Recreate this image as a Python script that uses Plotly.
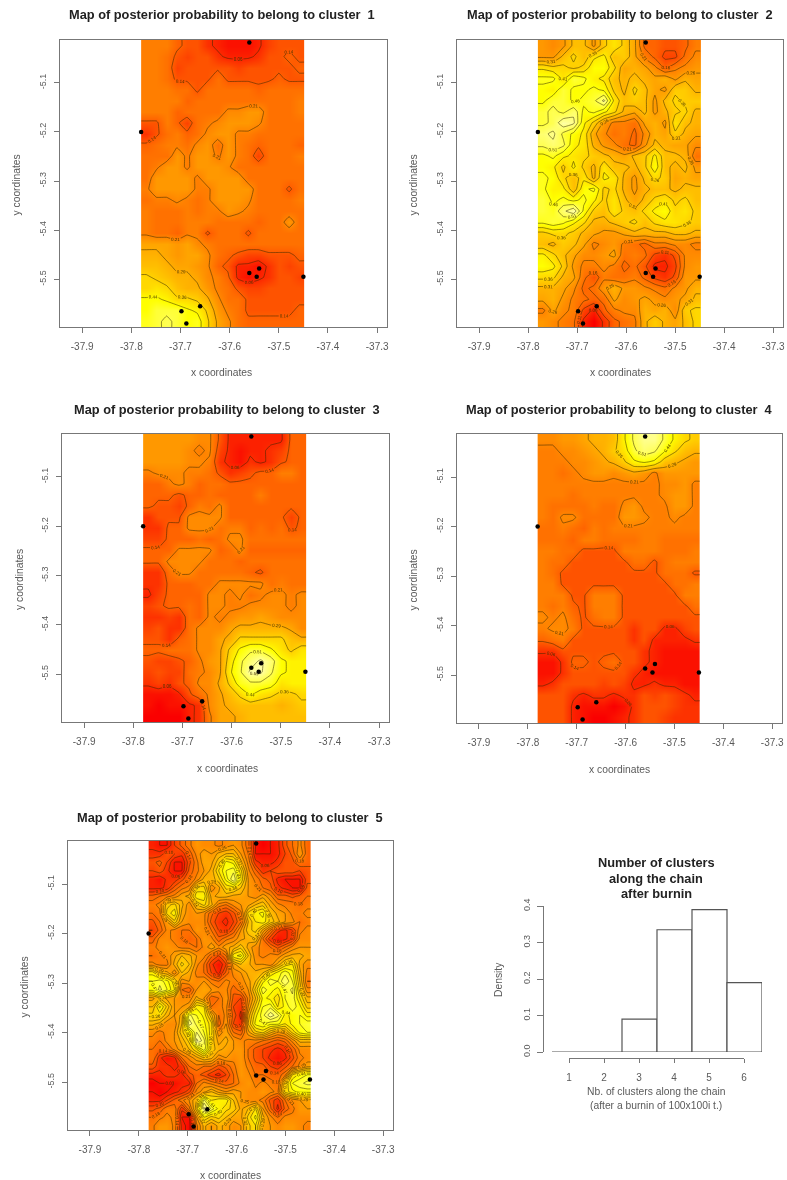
import numpy as np
import plotly.graph_objects as go

# --- data (shade index, 0 = red ... 18 = yellow ... 24 = pale) ---
cluster1 = [
 [8,8,8,6,5,5,3,2,1,1,1,2,4,5,5,5],
 [8,8,7,5,4,5,5,3,2,2,2,3,5,5,6,5],
 [8,8,7,4,5,5,5,5,5,4,5,5,5,5,5,6],
 [8,8,7,5,5,5,5,7,5,5,5,5,5,6,5,5],
 [8,8,8,7,7,5,7,7,7,7,7,6,7,7,7,7],
 [8,8,8,8,6,7,7,7,7,7,7,7,7,7,7,8],
 [8,8,8,6,7,7,7,7,9,9,10,10,7,7,7,8],
 [5,5,8,6,4,7,8,9,10,10,10,9,7,7,7,7],
 [3,5,7,8,6,7,9,10,10,8,8,7,7,7,7,7],
 [6,7,8,8,7,9,10,7,10,8,7,6,7,7,7,6],
 [7,7,7,10,8,10,10,8,10,8,7,4,7,7,7,8],
 [7,8,10,10,8,10,10,10,9,7,7,7,7,7,7,7],
 [7,10,10,10,10,8,10,10,10,10,7,7,7,7,7,7],
 [8,10,10,10,10,8,8,10,10,10,10,7,7,7,5,7],
 [7,8,8,9,8,7,8,10,10,10,9,7,7,7,7,8],
 [8,7,7,7,8,7,8,8,10,9,8,7,7,7,7,7],
 [8,7,7,7,8,8,8,7,7,7,7,6,7,7,10,7],
 [8,7,7,6,8,8,5,7,7,7,5,7,7,7,7,7],
 [11,11,11,10,11,9,8,7,7,7,7,7,7,7,7,7],
 [12,12,11,10,11,11,9,7,6,5,4,4,5,5,5,6],
 [13,13,12,11,11,10,9,6,5,2,2,1,3,5,4,5],
 [15,14,13,12,12,11,9,8,6,2,1,2,3,5,5,4],
 [15,16,15,13,12,12,10,8,7,5,4,4,5,5,5,5],
 [18,18,17,15,15,14,12,9,7,7,5,5,5,5,5,5],
 [18,20,20,20,18,17,14,10,8,7,5,5,5,5,5,6],
 [19,20,21,20,18,19,15,11,9,7,6,6,6,6,6,6],
]
cluster2 = [
 [10,9,10,13,13,10,14,16,14,11,6,6,5,5,6,8],
 [10,10,13,15,13,16,17,13,14,11,8,6,4,4,7,9],
 [16,15,15,14,15,18,18,15,11,12,11,9,6,8,9,10],
 [19,19,16,20,19,17,16,13,12,13,12,11,12,10,12,11],
 [18,17,20,18,18,19,18,14,12,15,13,11,10,14,14,12],
 [18,20,20,18,19,20,23,16,13,14,13,10,13,15,14,14],
 [20,21,20,22,18,19,17,15,12,11,13,10,12,14,15,12],
 [20,21,24,23,17,14,10,8,8,7,11,12,10,16,13,12],
 [22,23,20,18,16,11,9,7,8,6,9,12,11,14,12,11],
 [21,22,21,17,16,12,10,9,7,6,10,13,12,11,11,9],
 [18,19,17,16,15,14,13,12,11,13,14,17,13,13,12,7],
 [18,17,14,17,14,12,16,13,13,12,14,18,13,12,13,10],
 [19,18,15,13,16,12,17,16,12,10,13,15,14,11,12,11],
 [19,17,17,13,18,19,14,15,12,10,12,13,13,12,13,13],
 [20,18,19,18,19,17,14,16,13,11,13,15,16,14,15,13],
 [20,19,22,24,18,14,13,16,14,13,15,17,18,15,16,14],
 [19,20,19,17,15,12,12,13,14,15,13,15,16,16,15,14],
 [14,15,15,14,12,11,10,10,11,12,12,12,12,13,13,12],
 [13,12,14,13,11,8,9,10,8,7,6,8,8,9,9,8],
 [17,15,13,11,9,9,10,11,7,8,7,4,3,5,9,9],
 [18,17,14,10,8,8,9,8,6,7,5,2,2,4,9,10],
 [15,15,12,11,7,5,8,7,7,8,6,4,3,5,10,10],
 [12,12,11,9,6,7,10,12,10,10,9,8,7,9,10,12],
 [11,12,10,8,7,6,7,11,9,10,11,10,9,10,11,13],
 [8,11,9,8,4,2,6,8,9,9,12,11,12,9,14,15],
 [10,9,8,7,2,0,3,6,7,8,12,14,12,11,13,15],
]
cluster3 = [
 [10,10,10,10,10,9,9,5,2,2,2,2,2,2,6,6],
 [10,10,10,10,9,8,9,4,2,1,2,2,3,4,6,6],
 [10,10,10,10,9,9,8,3,2,1,3,2,3,5,6,6],
 [8,9,9,9,8,8,7,5,3,4,5,6,6,8,8,6],
 [6,6,8,9,8,6,7,7,6,6,6,6,6,6,6,6],
 [6,6,6,5,6,6,7,6,6,6,6,8,6,6,6,6],
 [6,5,5,4,6,8,7,9,6,6,6,6,6,6,6,6],
 [3,5,5,5,9,9,9,9,6,6,6,6,6,6,4,6],
 [3,3,6,6,9,9,9,7,8,8,6,7,6,7,5,6],
 [4,4,6,6,6,7,6,7,9,9,7,7,7,7,7,7],
 [6,6,6,9,9,9,9,6,7,9,6,6,6,6,6,6],
 [6,6,9,9,9,9,7,7,7,6,7,7,7,7,7,7],
 [3,3,7,9,9,7,7,7,7,7,6,5,7,7,7,7],
 [3,3,6,6,6,7,7,9,9,9,9,9,7,8,7,7],
 [2,4,6,6,6,6,9,9,8,9,7,8,9,9,8,9],
 [4,5,6,6,7,6,9,9,8,8,9,9,9,9,8,9],
 [3,3,4,3,7,6,9,8,9,10,10,11,10,9,9,9],
 [4,5,3,3,7,9,9,9,11,12,12,12,12,12,11,9],
 [5,5,3,6,7,9,9,11,12,15,15,15,15,15,13,12],
 [6,6,7,7,7,9,9,11,15,18,20,20,18,16,14,16],
 [5,4,4,5,6,8,10,11,16,20,22,24,22,18,17,17],
 [4,5,4,4,7,8,9,11,17,20,24,24,21,18,17,17],
 [3,4,3,5,6,9,9,12,15,19,20,20,19,16,17,17],
 [1,1,1,2,5,7,9,11,13,15,18,16,15,14,14,15],
 [1,0,1,1,2,3,9,11,12,13,13,13,13,12,13,14],
 [0,0,0,0,2,3,8,11,11,12,13,13,13,13,13,13],
]
cluster4 = [
 [9,9,10,10,11,12,12,13,17,21,23,23,20,17,15,14],
 [8,8,9,9,10,11,12,14,16,20,22,21,18,15,13,12],
 [8,8,8,9,9,10,11,12,14,17,18,17,13,12,11,10],
 [8,8,7,8,9,10,10,9,10,11,10,8,10,10,10,10],
 [8,8,8,8,8,8,8,8,8,8,8,8,9,9,10,8],
 [8,8,8,7,8,8,8,8,8,8,8,8,9,10,10,8],
 [8,7,7,7,7,8,7,7,9,10,8,8,8,10,10,8],
 [8,7,9,9,7,7,7,7,10,10,9,8,8,9,8,8],
 [7,7,8,7,6,8,7,8,8,8,8,8,8,8,8,8],
 [7,7,7,6,8,8,7,7,7,7,8,8,7,7,7,7],
 [8,8,7,7,5,5,5,5,8,8,8,8,7,7,7,8],
 [8,7,7,5,5,5,5,5,5,7,7,5,7,8,8,8],
 [8,7,5,5,5,5,5,5,5,5,5,5,7,7,7,5],
 [8,8,5,5,5,5,5,5,5,5,5,5,5,7,7,8],
 [8,8,8,5,5,8,8,8,5,5,5,5,5,5,8,8],
 [8,7,8,6,5,8,8,8,5,5,5,5,5,5,5,7],
 [9,8,9,7,5,7,8,8,5,5,5,5,5,5,5,5],
 [8,9,9,8,5,5,5,5,5,3,5,5,2,2,4,5],
 [6,7,8,5,5,5,5,5,5,3,5,2,2,2,2,3],
 [3,3,5,5,5,5,5,5,5,5,3,2,1,1,1,1],
 [1,1,3,6,6,5,6,7,5,5,3,2,1,1,1,1],
 [1,1,3,5,5,5,5,5,5,3,2,1,1,1,1,1],
 [2,3,5,5,5,5,4,5,4,2,2,3,2,2,1,1],
 [5,5,5,3,2,3,3,2,3,3,5,4,5,4,3,2],
 [5,5,5,2,1,1,1,0,1,3,5,5,5,4,3,3],
 [5,5,5,2,1,0,0,1,2,3,5,5,4,3,3,3],
]
cluster5 = [
 [2,1,1,4,6,8,10,9,9,8,9,10,9,6,1,0,1,2,5,7,9,6],
 [3,3,5,4,3,6,9,11,10,12,13,13,10,7,1,1,1,2,4,6,10,6],
 [5,6,4,1,1,5,8,11,11,14,18,17,12,8,3,2,2,3,5,5,7,6],
 [4,5,3,1,1,6,8,10,12,16,19,20,15,9,6,3,4,5,5,5,4,5],
 [2,1,3,3,5,7,9,12,12,14,18,22,16,10,8,6,5,2,1,1,1,5],
 [2,2,3,6,8,9,15,15,9,11,15,15,13,10,9,7,6,3,2,1,1,6],
 [6,7,8,9,11,12,17,17,11,12,12,11,11,10,9,11,9,6,6,5,6,7],
 [8,9,14,15,12,9,13,15,12,8,7,9,10,11,13,14,11,9,8,8,7,8],
 [7,8,15,17,11,9,10,9,6,4,3,5,8,15,17,18,13,11,10,8,8,9],
 [5,7,10,14,10,9,9,9,5,3,2,4,7,13,16,17,14,12,10,9,7,8],
 [4,6,9,8,7,7,10,9,7,4,3,6,10,14,15,11,7,3,2,4,8,9],
 [6,9,9,8,7,6,7,10,9,6,8,9,11,12,13,7,3,1,2,4,9,9],
 [8,9,10,9,8,8,7,9,11,9,11,12,14,11,9,8,7,5,7,9,10,10],
 [7,8,9,11,13,12,10,9,6,4,7,17,18,13,9,8,9,9,11,12,12,11],
 [9,8,8,12,15,13,9,7,3,1,4,11,13,12,10,10,9,12,15,16,11,9],
 [17,13,12,9,13,11,8,7,4,2,6,9,10,12,12,13,16,18,20,18,12,8],
 [19,20,18,15,9,10,9,10,8,7,9,8,9,11,13,17,20,19,22,19,13,7],
 [18,21,19,16,7,6,10,11,10,9,9,6,8,10,15,20,18,17,19,21,14,9],
 [11,13,11,10,9,9,12,10,6,7,10,5,4,9,13,18,17,15,19,20,16,12],
 [13,18,14,10,10,11,17,16,7,8,9,4,3,10,15,19,20,16,18,20,18,14],
 [15,15,12,10,12,21,19,17,12,7,9,5,2,12,17,20,23,21,17,18,19,17],
 [12,11,9,9,13,23,20,18,15,6,10,4,3,13,18,19,18,18,16,18,19,20],
 [9,8,9,10,14,17,22,19,15,9,11,7,6,11,14,15,12,10,11,15,18,19],
 [8,7,9,10,12,15,24,21,14,11,12,10,9,8,8,7,6,5,6,9,12,12],
 [7,6,7,9,11,13,16,20,14,12,11,10,10,7,5,4,3,2,3,6,9,9],
 [7,3,1,2,7,9,11,13,12,9,10,9,10,7,5,4,2,1,2,5,8,9],
 [5,3,3,2,3,7,8,7,7,5,6,8,10,8,6,6,4,3,5,7,9,11],
 [2,2,3,3,2,5,6,5,3,2,4,7,10,9,7,7,6,6,8,16,18,19],
 [0,1,1,1,2,2,7,9,8,7,6,7,9,10,8,9,8,7,14,19,20,21],
 [1,0,1,2,3,5,9,11,13,11,10,11,10,9,9,10,9,8,15,17,18,18],
 [2,2,4,6,8,10,13,21,16,17,17,13,10,9,9,8,5,3,7,9,10,11],
 [5,6,8,8,3,8,14,24,20,17,15,14,11,13,16,10,6,2,6,8,10,10],
 [7,8,9,8,1,1,10,16,14,15,13,11,11,15,18,12,9,7,9,9,9,9],
 [8,10,10,8,2,0,8,12,10,12,11,9,10,14,16,11,10,9,10,10,9,8],
]
sample_x = [-37.56,-37.78,-37.56,-37.54,-37.545,-37.45,-37.698,-37.66,-37.688]
sample_y = [-5.018,-5.20,-5.487,-5.478,-5.495,-5.495,-5.565,-5.555,-5.59]
hist_x = [1,2,3,4,5,6]
hist_density = [0,0,0.09,0.335,0.39,0.19]
x_ticks = [-37.9,-37.8,-37.7,-37.6,-37.5,-37.4,-37.3]
y_ticks = [-5.1,-5.2,-5.3,-5.4,-5.5]

W, H = 787, 1180
GREY = "#777777"
TXT = "#5a5a5a"
FONT = "Liberation Sans"
HEAT = [[0, "#fa0000"], [0.25, "#ff6400"], [0.75, "#ffff00"], [1, "#ffffa8"]]
SCALE = 40.0
X0, X1 = -37.78, -37.448
Y0, Y1 = -5.013, -5.597

panels = [
    (cluster1, (60, 387, 40, 327), (222, 15), (222, 373), 16, 2.5, 3),
    (cluster2, (457, 783, 40, 327), (620, 15), (620, 373), 413, 2.5, 2),
    (cluster3, (62, 389, 434, 722), (227, 410), (227, 768), 19, 2.5, 3),
    (cluster4, (457, 782, 434, 723), (619, 410), (619, 769), 413, 2.5, 3),
    (cluster5, (68, 393, 841, 1130), (230, 817), (230, 1175), 24, 1, 1.5),
]

fig = go.Figure()
ann = []

def text(x, y, s, size=10.3, color=TXT, rot=0, bold=False):
    ann.append(dict(x=x / W, y=1 - y / H, xref="paper", yref="paper", text=f"<b>{s}</b>" if bold else s,
                    showarrow=False, textangle=rot, xanchor="center", yanchor="middle",
                    font=dict(family=FONT, size=size, color=color)))

axes = {}
for i, (grid, (l, r, t, b), tpos, xpos, ylab_x, start, size) in enumerate(panels, start=1):
    z = np.array(grid) / SCALE
    nrow, ncol = z.shape
    dx = (X1 - X0) / ncol
    dy = (Y1 - Y0) / nrow
    xs = X0 + dx * (np.arange(ncol) + 0.5)
    ys = Y0 + dy * (np.arange(nrow) + 0.5)
    xn, yn = ("x", "y") if i == 1 else (f"x{i}", f"y{i}")
    fig.add_trace(go.Heatmap(x=xs, y=ys, z=z, xaxis=xn, yaxis=yn, zmin=0, zmax=24 / SCALE, colorscale=HEAT,
                             showscale=False, zsmooth="best", hoverinfo="skip"))
    # contour lines run on to the edge of the coloured block: outermost cells repeated at the border
    fig.add_trace(go.Contour(
        x=np.r_[X0, xs, X1], y=np.r_[Y0, ys, Y1], z=np.pad(z, 1, mode="edge"), xaxis=xn, yaxis=yn,
        showscale=False, hoverinfo="skip",
        line=dict(color="rgba(50,40,0,0.75)", width=0.7, smoothing=0.3),
        contours=dict(coloring="none", start=start / SCALE, end=24 / SCALE, size=size / SCALE,
                      showlabels=True, labelformat=".2f",
                      labelfont=dict(size=4.5, color="#443300", family=FONT))))
    fig.add_trace(go.Scatter(x=sample_x, y=sample_y, xaxis=xn, yaxis=yn, mode="markers", hoverinfo="skip",
                             marker=dict(color="black", size=4.5), showlegend=False, cliponaxis=False))
    common = dict(showline=True, linecolor=GREY, linewidth=1, mirror=True, ticks="outside", ticklen=5,
                  tickcolor=GREY, showgrid=False, zeroline=False)
    axes[f"xaxis{i}"] = dict(domain=[l / W, r / W], range=[-37.945, -37.28], tickvals=x_ticks,
                             ticktext=[f"{v:.1f}" for v in x_ticks], anchor=f"y{i}", ticklabelstandoff=5,
                             tickfont=dict(family=FONT, size=10, color=TXT), **common)
    axes[f"yaxis{i}"] = dict(domain=[1 - b / H, 1 - t / H], range=[Y1, Y0], tickvals=y_ticks,
                             ticktext=[f"{v:.1f}" for v in y_ticks], anchor=f"x{i}", tickangle=-90,
                             ticklabelstandoff=4, tickfont=dict(family=FONT, size=9, color=TXT), **common)
    text(tpos[0], tpos[1], f"Map of posterior probability to belong to cluster  {i}", size=12.8, color="#222222", bold=True)
    text(xpos[0], xpos[1], "x coordinates")
    text(ylab_x, (t + b) / 2 + 2, "y coordinates", rot=-90)

# histogram
fig.add_trace(go.Bar(x=hist_x, y=hist_density, width=1, xaxis="x6", yaxis="y6", hoverinfo="skip",
                     marker=dict(color="white", line=dict(color="#555555", width=1.2)), showlegend=False))
fig.add_trace(go.Scatter(x=[hist_x[0], hist_x[-1]], y=[0, 0], xaxis="x7", yaxis="y6", mode="markers",
                         marker=dict(opacity=0), hoverinfo="skip", showlegend=False))
axes["xaxis6"] = dict(domain=[552 / W, 762 / W], range=[0.5, 6.5], visible=False, anchor="y6")
axes["yaxis6"] = dict(domain=[1 - 1052 / H, 1 - 906 / H], range=[0, 0.4], anchor="free", position=543 / W,
                      tickvals=[0, 0.1, 0.2, 0.3, 0.4], ticktext=["0.0", "0.1", "0.2", "0.3", "0.4"],
                      showline=True, linecolor=GREY, ticks="outside", ticklen=6, tickcolor=GREY, tickangle=-90,
                      showgrid=False, zeroline=False, ticklabelstandoff=3,
                      tickfont=dict(family=FONT, size=9, color=TXT))
axes["xaxis7"] = dict(domain=[569 / W, 744 / W], range=[1, 6], anchor="free", position=1 - 1058 / H,
                      tickvals=hist_x, showline=True, linecolor=GREY, ticks="outside", ticklen=4, tickcolor=GREY,
                      showgrid=False, zeroline=False, ticklabelstandoff=6,
                      tickfont=dict(family=FONT, size=10, color=TXT))
for s, y in (("Number of clusters", 862), ("along the chain", 878), ("after burnin", 893)):
    text(656, y, s, size=12.8, color="#222222", bold=True)
text(498, 980, "Density", rot=-90)
text(656, 1091, "Nb. of clusters along the chain", size=10.3)
text(656, 1105, "(after a burnin of 100x100i t.)", size=10.3)

fig.update_layout(width=W, height=H, margin=dict(l=0, r=0, t=0, b=0, autoexpand=False),
                  paper_bgcolor="white", plot_bgcolor="rgba(0,0,0,0)",
                  showlegend=False, annotations=ann, barmode="overlay", **axes)
fig.write_html("out.html", config={"displayModeBar": False},
               post_script="document.body.style.margin='0';"
                           "document.querySelector('.plotly-graph-div').style.filter='blur(0.55px)';")
